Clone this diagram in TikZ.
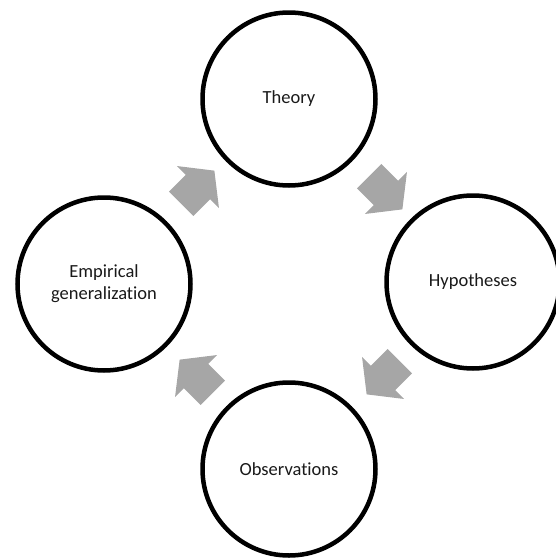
\documentclass[tikz,border=0pt]{standalone}
\usepackage{fontspec}
\setmainfont{Carlito}[Ligatures={NoCommon}]
\usetikzlibrary{shapes.arrows}
\definecolor{arrowgray}{RGB}{166,166,166}
\tikzset{
  stage/.style={circle, draw=black, line width=4.5pt, minimum size=173pt, inner sep=0pt,
    align=center, font=\fontsize{18.5}{22}\selectfont, text=black!90},
  cyclearrow/.style={single arrow, fill=arrowgray, draw=none, minimum height=47pt,
    inner xsep=0pt, inner ysep=17pt, single arrow head extend=12.5pt,
    single arrow tip angle=104}
}
\begin{document}
\begin{tikzpicture}[x=1pt, y=-1pt]
  \useasboundingbox (0,0) rectangle (556,560);
  \node[stage] (theory) at (289,99) {Theory};
  \node[stage] (hyp) at (473,282) {Hypotheses};
  \node[stage] (obs) at (289,469) {Observations};
  \node[stage] (emp) at (104,284) {Empirical\\generalization};
  \node[cyclearrow, rotate=45] (a1) at (193,192) {};
  \node[cyclearrow, rotate=-45] (a2) at (381,188) {};
  \node[cyclearrow, rotate=-135] (a3) at (388,373) {};
  \node[cyclearrow, rotate=135] (a4) at (201,381) {};
\end{tikzpicture}
\end{document}
